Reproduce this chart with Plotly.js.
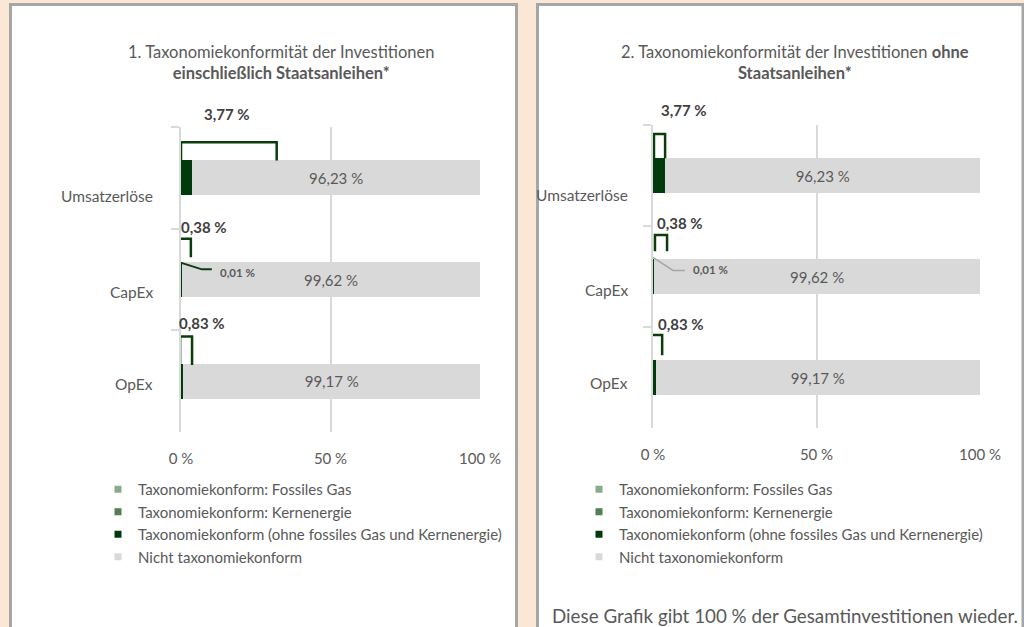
<!DOCTYPE html>
<html>
<head>
<meta charset="utf-8">
<script src="https://cdn.plot.ly/plotly-3.0.1.min.js"></script>
<style>html,body{margin:0;padding:0;background:#fbe7d5;}#chart{width:1024px;height:627px;}</style>
</head>
<body>
<div id="chart"></div>
<script>
// ---- data ----
const categories = ['Umsatzerlöse', 'CapEx', 'OpEx'];
const seriesNames = [
  'Taxonomiekonform: Fossiles Gas',
  'Taxonomiekonform: Kernenergie',
  'Taxonomiekonform (ohne fossiles Gas und Kernenergie)',
  'Nicht taxonomiekonform'
];
// chart 1: incl. sovereign bonds
const gas1 = [0, 0, 0];
const nuclear1 = [0, 0.01, 0];
const aligned1 = [3.77, 0.37, 0.83];
const notAligned1 = [96.23, 99.62, 99.17];
// chart 2: excl. sovereign bonds
const gas2 = [0, 0, 0];
const nuclear2 = [0, 0.01, 0];
const aligned2 = [3.77, 0.37, 0.83];
const notAligned2 = [96.23, 99.62, 99.17];
const xTicks = [0, 50, 100];
const xTickLabels = ['0 %', '50 %', '100 %'];

// ---- styles ----
const FONT = 'Lato, "Open Sans", sans-serif';
const TXT = '#595959';
const colors = ['#8aab8a', '#4f7f52', '#013a0b', '#d9d9d9'];
const W = 1024, H = 627;
const BAND = 101.5; // px per category band
const px = p => p / W;
const py = p => 1 - p / H;
const fmt = v => v.toFixed(2).replace('.', ',') + ' %';

const traces = [];
function addBars(sets, xa, ya) {
  sets.forEach((vals, i) => {
    traces.push({
      type: 'bar', orientation: 'h', y: categories, x: vals,
      xaxis: xa, yaxis: ya, width: 0.345,
      marker: {color: colors[i], line: {width: 0}},
      name: seriesNames[i], showlegend: false,
      text: i === 3 ? vals.map(fmt) : undefined,
      textposition: i === 3 ? 'inside' : 'none',
      insidetextanchor: 'middle',
      textfont: {family: FONT, size: 15, color: TXT},
      hoverinfo: 'name+x'
    });
  });
}
addBars([gas1, nuclear1, aligned1, notAligned1], 'x', 'y');
addBars([gas2, nuclear2, aligned2, notAligned2], 'x2', 'y2');

// legend entries (one legend per panel)
['legend', 'legend2'].forEach(lg => {
  seriesNames.forEach((n, i) => {
    traces.push({
      type: 'scatter', mode: 'markers', x: [null], y: [null],
      xaxis: lg === 'legend' ? 'x' : 'x2', yaxis: lg === 'legend' ? 'y' : 'y2',
      marker: {symbol: 'square', size: 7, color: colors[i]},
      name: n, legend: lg, showlegend: true, hoverinfo: 'skip'
    });
  });
});

function xaxis(domain, anchor) {
  return {
    domain: domain, anchor: anchor, range: [0, 100], autorange: false, fixedrange: true,
    showgrid: true, gridcolor: '#d9d9d9', gridwidth: 2, zeroline: false,
    showline: false, ticks: '', tickmode: 'array', tickvals: xTicks, ticktext: xTickLabels,
    tickfont: {family: FONT, size: 15, color: TXT}, ticklabelstandoff: 16
  };
}
function yaxis(domain, anchor) {
  return {
    domain: domain, anchor: anchor, type: 'category', categoryarray: categories,
    range: [2.5, -0.5], autorange: false, fixedrange: true,
    showgrid: false, zeroline: false, showline: true, linecolor: '#d9d9d9', linewidth: 2,
    ticks: 'outside', tickson: 'boundaries', ticklen: 8, tickcolor: '#d9d9d9', tickwidth: 2,
    showticklabels: false
  };
}

// ---- decorations: label callout brackets and leader lines ----
const br1 = [ // [xLeft, xRight, yTop, yBottom] relative to category index
  [0, 32, -0.35, -0.17], [-1, 3.3, -0.40, -0.22], [-0.3, 3.7, -0.44, -0.16]
];
const br2 = [
  [0.3, 3.7, -0.41, -0.17], [0.6, 4.3, -0.41, -0.25], [-0.6, 2.8, -0.42, -0.22]
];
const shapes = [
  {type: 'rect', xref: 'paper', yref: 'paper', x0: px(10.5), x1: px(516.5), y0: -0.05, y1: py(4.5),
   fillcolor: '#ffffff', line: {color: '#a6a6a6', width: 3}, layer: 'below'},
  {type: 'rect', xref: 'paper', yref: 'paper', x0: px(537.5), x1: px(1023), y0: -0.05, y1: py(4.5),
   fillcolor: '#ffffff', line: {color: '#a6a6a6', width: 3}, layer: 'below'}
];
function addBrackets(br, xr, yr) {
  br.forEach((b, i) => {
    const yb = i + b[3], yt = i + b[2];
    shapes.push({type: 'path', xref: xr, yref: yr,
      path: `M${b[0]},${yb} L${b[0]},${yt} L${b[1]},${yt} L${b[1]},${yb}`,
      line: {color: '#0b3d0b', width: 2.5}});
  });
}
addBrackets(br1, 'x', 'y');
addBrackets(br2, 'x2', 'y2');
shapes.push({type: 'path', xref: 'x', yref: 'y', path: 'M-0.3,0.833 L7,0.90 L10.3,0.90',
  line: {color: '#0b3d0b', width: 2}});
shapes.push({type: 'path', xref: 'x2', yref: 'y2', path: 'M0,0.81 L6.1,0.94 L9.8,0.94',
  line: {color: '#a6a6a6', width: 1.5}});

// ---- annotations ----
const annotations = [];
function sumAligned(g, n, a) { return categories.map((_, i) => g[i] + n[i] + a[i]); }
function addLabels(tot, nuc, xr, yr, labelPos, smallPos, catShift, catX) {
  tot.forEach((v, i) => {
    annotations.push({xref: xr, yref: yr, x: labelPos[i][0], y: categories[i],
      yshift: -labelPos[i][1] * BAND,
      text: '<b>' + fmt(v) + '</b>', showarrow: false, xanchor: 'center', yanchor: 'middle',
      font: {family: FONT, size: 15, color: '#404040'}});
    annotations.push({xref: xr, yref: yr, x: 0, y: categories[i], xanchor: 'right', yanchor: 'middle',
      xshift: catX, yshift: catShift[i], text: categories[i], showarrow: false,
      font: {family: FONT, size: 15.5, color: TXT}});
  });
  nuc.forEach((v, i) => {
    if (v > 0) annotations.push({xref: xr, yref: yr, x: smallPos[0], y: categories[i],
      yshift: -smallPos[1] * BAND,
      text: '<b>' + fmt(v) + '</b>', showarrow: false, xanchor: 'center', yanchor: 'middle',
      font: {family: FONT, size: 11.5, color: TXT}});
  });
}
addLabels(sumAligned(gas1, nuclear1, aligned1), nuclear1, 'x', 'y',
  [[15.3, -0.63], [7.7, -0.52], [7, -0.57]], [18.8, -0.07], [-18.5, -12, -3], -26);
addLabels(sumAligned(gas2, nuclear2, aligned2), nuclear2, 'x2', 'y2',
  [[9.5, -0.65], [8.3, -0.53], [8.6, -0.53]], [17.7, -0.07], [-19, -13, -5.5], -23);

annotations.push({xref: 'paper', yref: 'paper', x: px(281), y: py(63), xanchor: 'center', yanchor: 'middle',
  text: '1. Taxonomiekonformität der Investitionen<br><b>einschließlich Staatsanleihen*</b>',
  showarrow: false, font: {family: FONT, size: 16.5, color: TXT}});
annotations.push({xref: 'paper', yref: 'paper', x: px(795), y: py(63), xanchor: 'center', yanchor: 'middle',
  text: '2. Taxonomiekonformität der Investitionen <b>ohne</b><br><b>Staatsanleihen*</b>',
  showarrow: false, font: {family: FONT, size: 16.5, color: TXT}});
annotations.push({xref: 'paper', yref: 'paper', x: px(785), y: py(615), xanchor: 'center', yanchor: 'middle',
  text: 'Diese Grafik gibt 100 % der Gesamtinvestitionen wieder.',
  showarrow: false, font: {family: FONT, size: 18.8, color: TXT}});

const legendStyle = (x) => ({x: px(x), y: py(473), xanchor: 'left', yanchor: 'top',
  bgcolor: 'rgba(0,0,0,0)', borderwidth: 0, font: {family: FONT, size: 15, color: TXT},
  traceorder: 'normal', itemclick: false, itemdoubleclick: false});

const layout = {
  width: W, height: H, margin: {l: 0, r: 0, t: 0, b: 0},
  paper_bgcolor: '#fbe7d5', plot_bgcolor: 'rgba(0,0,0,0)',
  barmode: 'stack', separators: ', ', showlegend: true,
  font: {family: FONT, size: 14, color: TXT},
  xaxis: xaxis([px(181), px(480)], 'y'),
  yaxis: yaxis([py(432), py(127)], 'x'),
  xaxis2: xaxis([px(653), px(980)], 'y2'),
  yaxis2: yaxis([py(428), py(125)], 'x2'),
  legend: legendStyle(98),
  legend2: legendStyle(579),
  shapes: shapes, annotations: annotations
};

Plotly.newPlot('chart', traces, layout, {displayModeBar: false, staticPlot: true});
</script>
</body>
</html>
